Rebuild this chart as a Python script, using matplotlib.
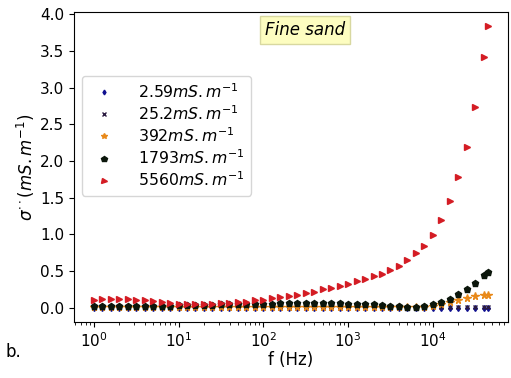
import matplotlib
matplotlib.use("Agg")
import matplotlib.pyplot as plt

# frequencies (Hz), ~10 points per decade
freq = [1.0, 1.26, 1.58, 2.0, 2.51, 3.16, 3.98, 5.01, 6.31, 7.94,
        10.0, 12.6, 15.8, 20.0, 25.1, 31.6, 39.8, 50.1, 63.1, 79.4,
        100.0, 126.0, 158.0, 200.0, 251.0, 316.0, 398.0, 501.0, 631.0, 794.0,
        1000.0, 1259.0, 1585.0, 1995.0, 2512.0, 3162.0, 3981.0, 5012.0, 6310.0, 7943.0,
        10000.0, 12589.0, 15849.0, 19953.0, 25119.0, 31623.0, 39811.0, 45000.0]

s_259 = [0.002] * 40 + [0.002, 0.002, 0.002, 0.002, 0.002, 0.002, 0.002, 0.002]

s_252 = [0.004] * 40 + [0.006, 0.007, 0.008, 0.008, 0.009, 0.01, 0.01, 0.01]

s_392 = [0.01] * 40 + [0.03, 0.055, 0.08, 0.11, 0.13, 0.155, 0.175, 0.18]

s_1793 = [0.025, 0.025, 0.03, 0.03, 0.03, 0.03, 0.03, 0.03, 0.03, 0.03,
          0.035, 0.035, 0.04, 0.04, 0.04, 0.045, 0.045, 0.05, 0.05, 0.05,
          0.055, 0.055, 0.06, 0.06, 0.06, 0.06, 0.06, 0.06, 0.06, 0.06,
          0.055, 0.05, 0.05, 0.045, 0.04, 0.03, 0.02, 0.015, 0.015, 0.025,
          0.05, 0.085, 0.12, 0.19, 0.26, 0.34, 0.44, 0.49]

s_5560 = [0.11, 0.115, 0.12, 0.12, 0.115, 0.11, 0.10, 0.09, 0.08, 0.065,
          0.055, 0.05, 0.05, 0.05, 0.055, 0.06, 0.065, 0.075, 0.085, 0.10,
          0.11, 0.13, 0.15, 0.16, 0.18, 0.20, 0.22, 0.25, 0.27, 0.30,
          0.33, 0.36, 0.39, 0.43, 0.46, 0.51, 0.57, 0.65, 0.74, 0.84,
          0.99, 1.20, 1.45, 1.78, 2.19, 2.74, 3.42, 3.84]

labels = [r"2.59$mS.m^{-1}$", r"25.2$mS.m^{-1}$", r"392$mS.m^{-1}$",
          r"1793$mS.m^{-1}$", r"5560$mS.m^{-1}$"]

fig = plt.figure(figsize=(5.11, 3.78), dpi=100)
ax = fig.add_axes([0.145, 0.149, 0.849, 0.819])

ax.plot(freq, s_259, ls="", marker="d", ms=3, color="#101090", label=labels[0])
ax.plot(freq, s_252, ls="", marker="x", ms=3.5, mew=1, color="#2b1b40", label=labels[1])
ax.plot(freq, s_392, ls="", marker="*", ms=5.5, color="#e8891a", label=labels[2])
ax.plot(freq, s_1793, ls="", marker="p", ms=5, color="#0b160b", label=labels[3])
ax.plot(freq, s_5560, ls="", marker=">", ms=4.5, color="#d41c24", label=labels[4])

ax.set_xscale("log")
ax.set_xlabel("f (Hz)", fontsize=12, labelpad=1)
ax.set_ylabel(r"$\sigma^{\cdot\cdot}(mS.m^{-1})$", fontsize=12, labelpad=2)
ax.tick_params(labelsize=11)

ax.legend(loc="upper left", bbox_to_anchor=(0.0, 0.82), fontsize=11.3,
          handlelength=2.0, handletextpad=1.2, labelspacing=0.22,
          markerscale=0.8, borderpad=0.4)

ax.text(0.532, 0.943, "Fine sand", transform=ax.transAxes, ha="center", va="center",
        fontsize=12, style="italic",
        bbox=dict(boxstyle="square,pad=0.3", facecolor="#fdfdc0", edgecolor="#d8d8a0"))

fig.text(0.01, 0.055, "b.", fontsize=12)

fig.savefig("out.png", dpi=100)
